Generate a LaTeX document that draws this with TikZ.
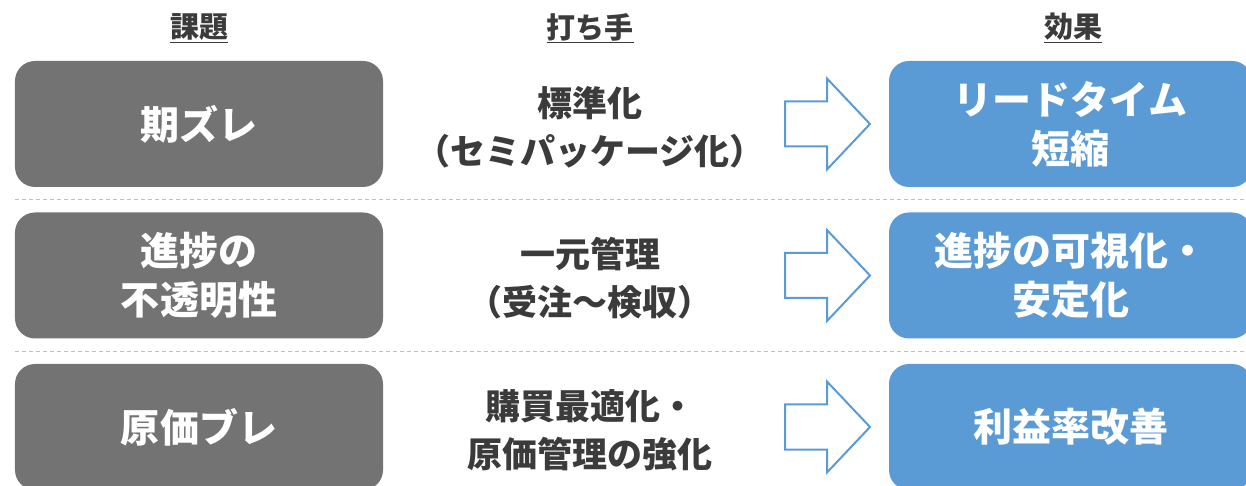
\documentclass[tikz,border=0pt]{standalone}
\usepackage{fontspec}
\setmainfont{Noto Sans CJK JP}
\definecolor{issuegray}{HTML}{737373}
\definecolor{effectblue}{HTML}{5B9BD5}
\definecolor{textdark}{HTML}{3B3B3B}
\definecolor{rulegray}{HTML}{C0C0C0}
\tikzset{
  header/.style={text=textdark, font=\fontsize{29bp}{32bp}\selectfont\bfseries},
  issue/.style={fill=issuegray, rounded corners=20bp, minimum width=368bp, minimum height=126bp, text=white, align=center, font=\fontsize{39bp}{49bp}\selectfont\bfseries},
  effect/.style={issue, fill=effectblue, minimum width=363bp},
  measure/.style={text=textdark, align=center, font=\fontsize{35bp}{48bp}\selectfont\bfseries},
  blockarrow/.style={draw=effectblue, line width=2bp, fill=white, line join=miter},
  separator/.style={draw=rulegray, line width=1bp, dash pattern=on 4bp off 3bp}
}
\begin{document}
\begin{tikzpicture}[x=1bp,y=-1bp]
\useasboundingbox (0,0) rectangle (1246,486);
\clip (0,0) rectangle (1246,486);
\node[header] (hIssue) at (199,28) {\underline{課題}};
\node[header] (hMeasure) at (590,28) {\underline{打ち手}};
\node[header] (hEffect) at (1073,28) {\underline{効果}};
\node[issue] (issue1) at (199,124) {期ズレ};
\node[issue] (issue2) at (199,275.5) {進捗の\\不透明性};
\node[issue] (issue3) at (199,427) {原価ブレ};
\node[measure] (measure1) at (590,127) {標準化\\（セミパッケージ化）};
\node[measure] (measure2) at (590,278) {一元管理\\（受注～検収）};
\node[measure] (measure3) at (590,430) {購買最適化・\\原価管理の強化};
\node[effect] (effect1) at (1070.5,124) {リードタイム\\短縮};
\node[effect] (effect2) at (1070.5,275.5) {進捗の可視化・\\安定化};
\node[effect] (effect3) at (1070.5,427) {利益率改善};
\foreach \cy [count=\i] in {124,275.5,427}
  \draw[blockarrow] (785,\cy) ++(0,-22.5) coordinate (arrow\i) -- ++(42,0) -- ++(0,-23) -- ++(43,45.5) -- ++(-43,45.5) -- ++(0,-23) -- ++(-42,0) -- cycle;
\coordinate (sepA) at (15,199.5);
\coordinate (sepB) at (15,352);
\draw[separator] (sepA) -- ++(1231,0);
\draw[separator] (sepB) -- ++(1231,0);
\end{tikzpicture}
\end{document}
